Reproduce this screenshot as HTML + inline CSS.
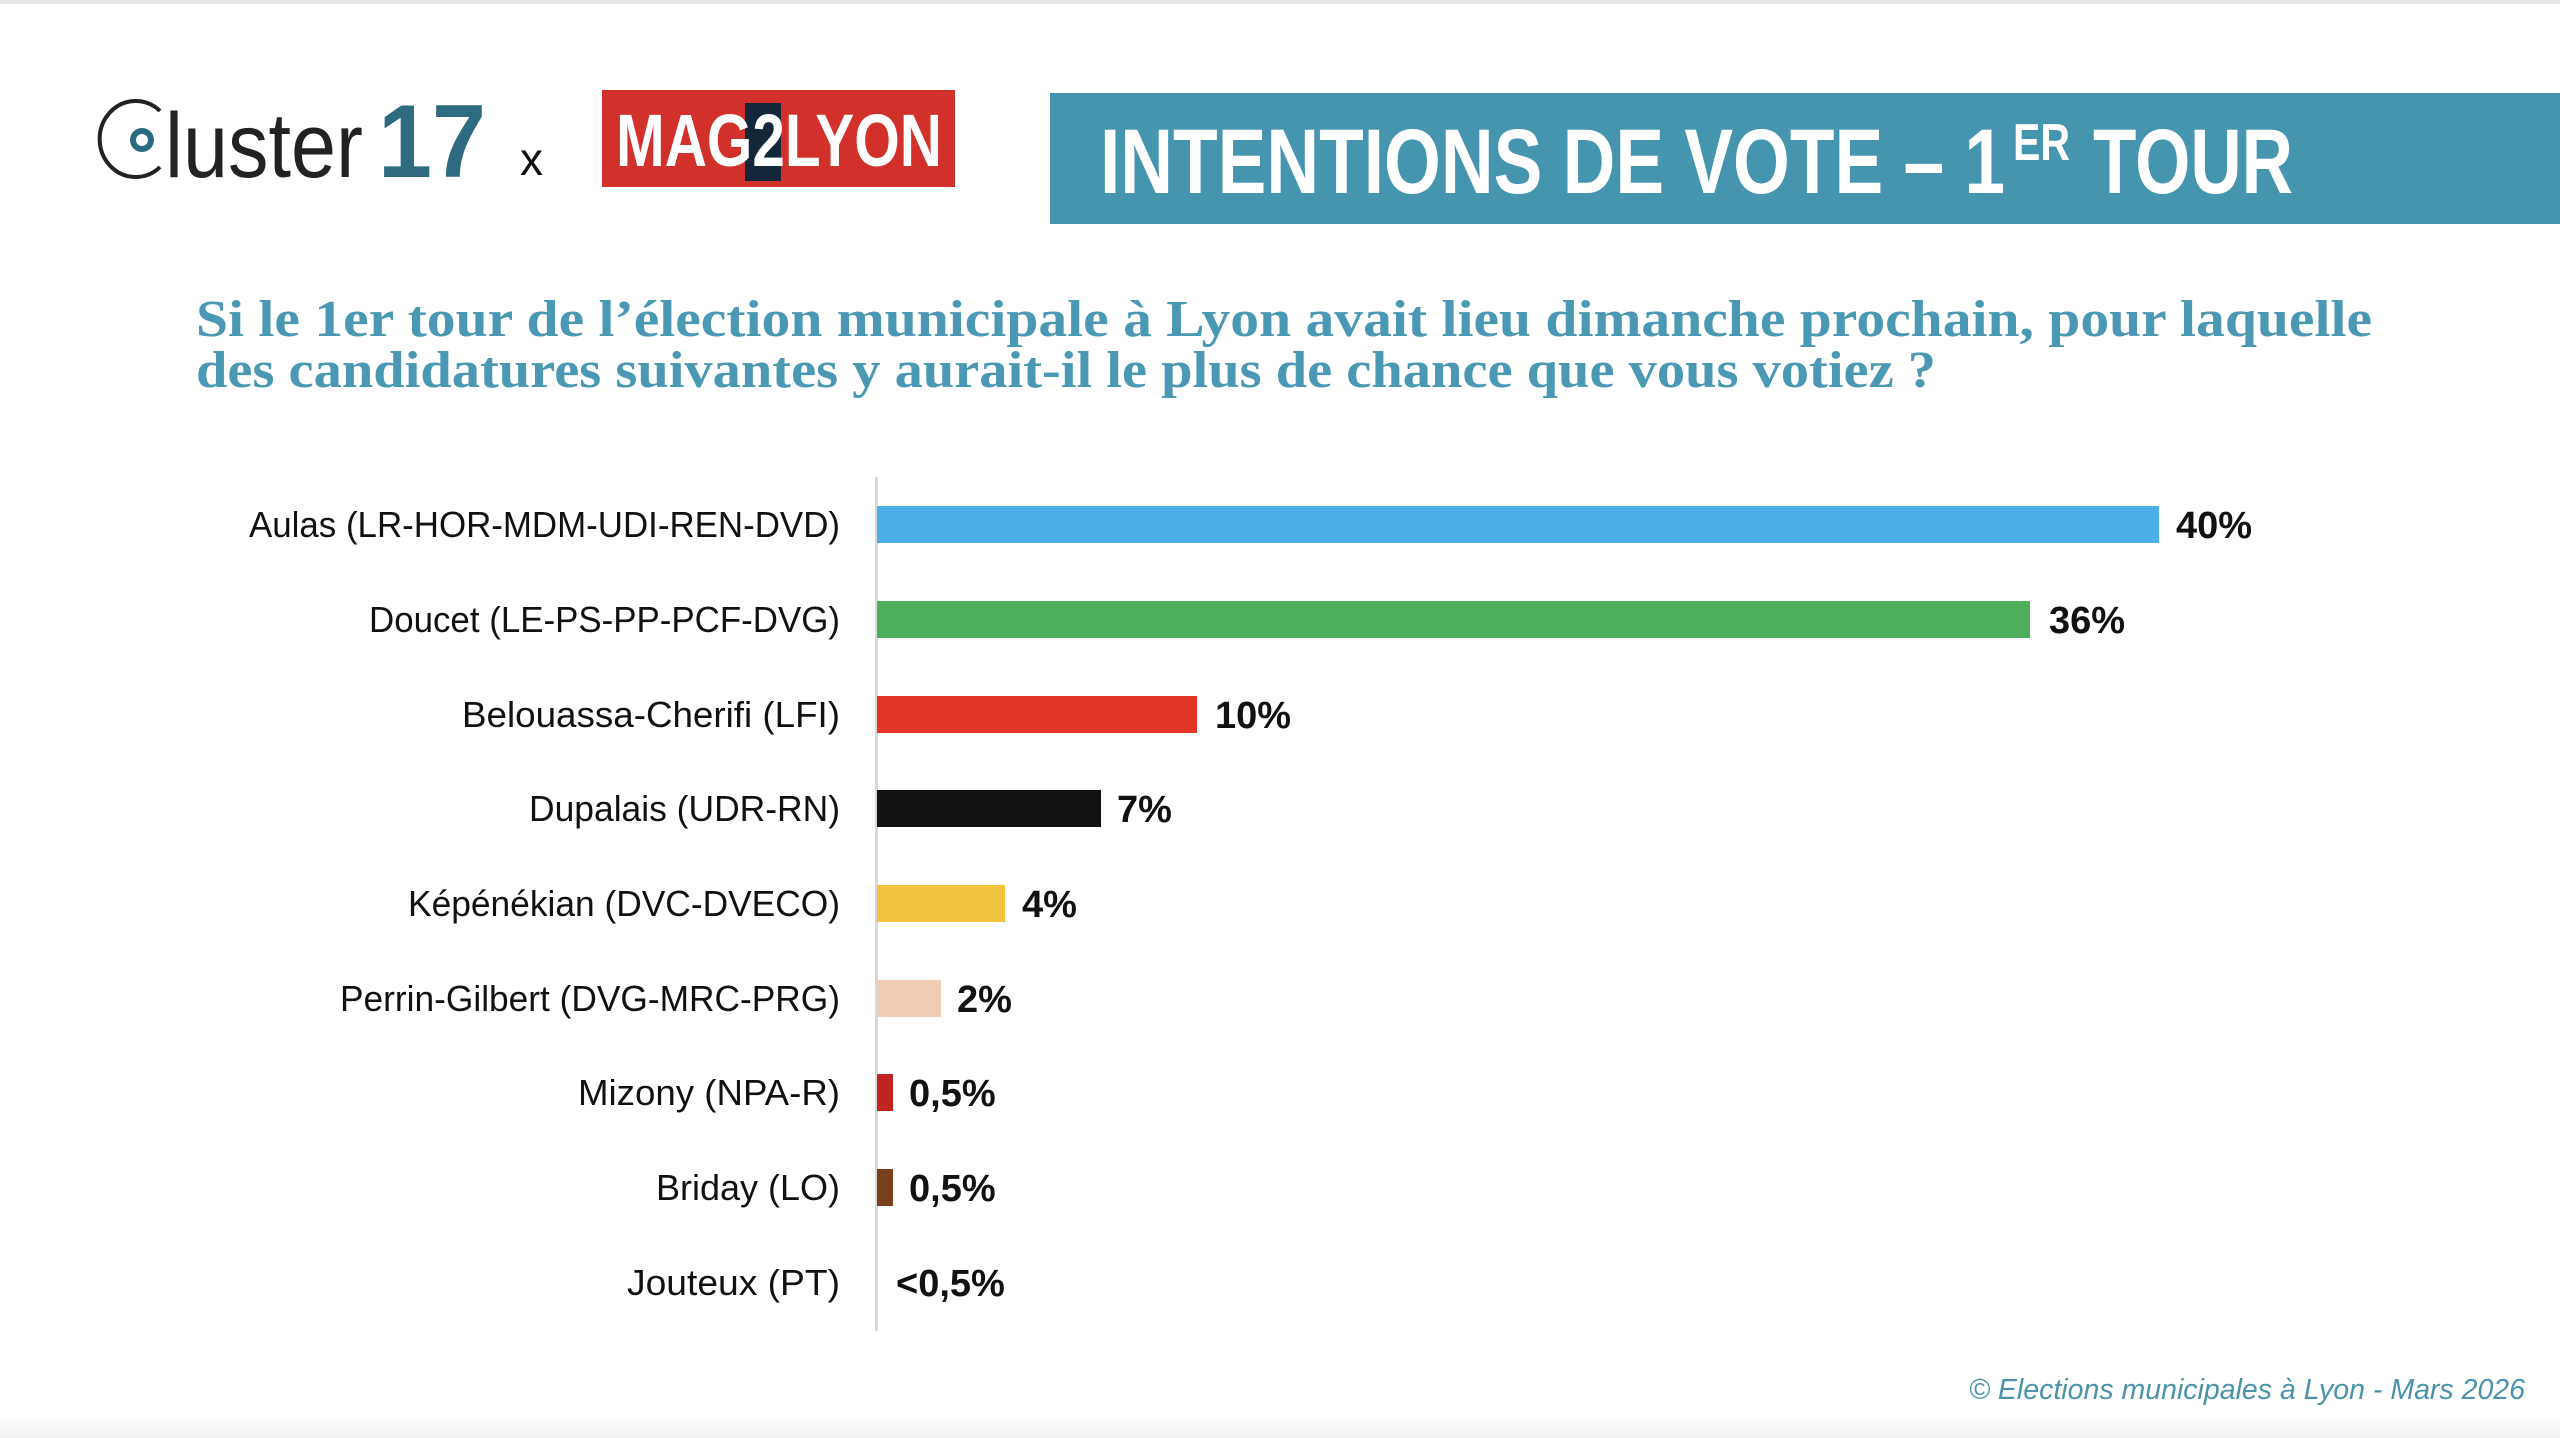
<!DOCTYPE html>
<html><head><meta charset="utf-8"><style>
html,body{margin:0;padding:0;background:#fff;}
svg{display:block;}
</style></head><body>
<svg width="2560" height="1438" viewBox="0 0 2560 1438" xmlns="http://www.w3.org/2000/svg">
<defs><linearGradient id="bg" x1="0" y1="0" x2="0" y2="1"><stop offset="0" stop-color="#fff"/><stop offset="1" stop-color="#f1f1f1"/></linearGradient></defs>
<rect width="2560" height="1438" fill="#fff"/>
<rect x="0" y="0" width="2560" height="4" fill="#e6e6e6"/>
<rect x="0" y="1412" width="2560" height="26" fill="url(#bg)"/>
<!-- Cluster17 logo -->
<path d="M 160 111 A 36 38 0 1 0 160 167" fill="none" stroke="#222" stroke-width="4"/>
<circle cx="142" cy="140" r="9" fill="none" stroke="#2c6a80" stroke-width="6"/>
<text x="165" y="177" font-family="Liberation Sans, sans-serif" font-size="92" fill="#222" textLength="198" lengthAdjust="spacingAndGlyphs">luster</text>
<text x="378" y="177" font-family="Liberation Sans, sans-serif" font-weight="bold" font-size="104" fill="#2e6a80" textLength="108" lengthAdjust="spacingAndGlyphs">17</text>
<text x="520" y="175" font-family="Liberation Sans, sans-serif" font-size="46" fill="#111">x</text>
<!-- MAG2LYON -->
<rect x="602" y="90" width="353" height="97" fill="#d2302a"/>
<rect x="745" y="103" width="36" height="78" fill="#12283a"/>
<text x="616" y="166" font-family="Liberation Sans, sans-serif" font-weight="bold" font-size="74" fill="#fff" textLength="326" lengthAdjust="spacingAndGlyphs">MAG2LYON</text>
<!-- banner -->
<rect x="1050" y="93" width="1510" height="131" fill="#4595af"/>
<g font-family="Liberation Sans, sans-serif" font-weight="bold" fill="#fff">
<text x="1100" y="193" font-size="92" textLength="905" lengthAdjust="spacingAndGlyphs">INTENTIONS DE VOTE – 1</text>
<text x="2013" y="160" font-size="52" textLength="57" lengthAdjust="spacingAndGlyphs">ER</text>
<text x="2093" y="193" font-size="92" textLength="200" lengthAdjust="spacingAndGlyphs">TOUR</text>
</g>
<!-- question -->
<g font-family="Liberation Serif, serif" font-weight="bold" font-size="52" fill="#4a98b3">
<text x="196" y="336" textLength="2176" lengthAdjust="spacingAndGlyphs">Si le 1er tour de l’élection municipale à Lyon avait lieu dimanche prochain, pour laquelle</text>
<text x="196" y="387" textLength="1740" lengthAdjust="spacingAndGlyphs">des candidatures suivantes y aurait-il le plus de chance que vous votiez ?</text>
</g>
<!-- axis -->
<rect x="875" y="477" width="3" height="854" fill="#d8d8d8"/>
<!-- bars -->
<g>
<rect x="877" y="506" width="1282" height="37" fill="#4eaee8"/>
<rect x="877" y="601" width="1153" height="37" fill="#4daf5c"/>
<rect x="877" y="696" width="320" height="37" fill="#e33428"/>
<rect x="877" y="790" width="224" height="37" fill="#111"/>
<rect x="877" y="885" width="128" height="37" fill="#f2c33d"/>
<rect x="877" y="980" width="64" height="37" fill="#f1cdb4"/>
<rect x="877" y="1074" width="16" height="37" fill="#be2420"/>
<rect x="877" y="1169" width="16" height="37" fill="#7a3f1c"/>
</g>
<g font-family="Liberation Sans, sans-serif" font-size="36" fill="#111" text-anchor="end">
<text x="840" y="537" textLength="591" lengthAdjust="spacingAndGlyphs">Aulas (LR-HOR-MDM-UDI-REN-DVD)</text>
<text x="840" y="632" textLength="471" lengthAdjust="spacingAndGlyphs">Doucet (LE-PS-PP-PCF-DVG)</text>
<text x="840" y="727" textLength="378" lengthAdjust="spacingAndGlyphs">Belouassa-Cherifi (LFI)</text>
<text x="840" y="821" textLength="311" lengthAdjust="spacingAndGlyphs">Dupalais (UDR-RN)</text>
<text x="840" y="916" textLength="432" lengthAdjust="spacingAndGlyphs">Képénékian (DVC-DVECO)</text>
<text x="840" y="1011" textLength="500" lengthAdjust="spacingAndGlyphs">Perrin-Gilbert (DVG-MRC-PRG)</text>
<text x="840" y="1105" textLength="262" lengthAdjust="spacingAndGlyphs">Mizony (NPA-R)</text>
<text x="840" y="1200" textLength="184" lengthAdjust="spacingAndGlyphs">Briday (LO)</text>
<text x="840" y="1295" textLength="213" lengthAdjust="spacingAndGlyphs">Jouteux (PT)</text>
</g>
<g font-family="Liberation Sans, sans-serif" font-weight="bold" font-size="38" fill="#111">
<text x="2176" y="538">40%</text>
<text x="2049" y="633">36%</text>
<text x="1215" y="728">10%</text>
<text x="1117" y="822">7%</text>
<text x="1022" y="917">4%</text>
<text x="957" y="1012">2%</text>
<text x="909" y="1106">0,5%</text>
<text x="909" y="1201">0,5%</text>
<text x="896" y="1296">&lt;0,5%</text>
</g>
<text x="2525" y="1399" text-anchor="end" font-family="Liberation Sans, sans-serif" font-style="italic" font-size="29" fill="#4a93ab" textLength="556" lengthAdjust="spacingAndGlyphs">© Elections municipales à Lyon - Mars 2026</text>
</svg>
</body></html>
